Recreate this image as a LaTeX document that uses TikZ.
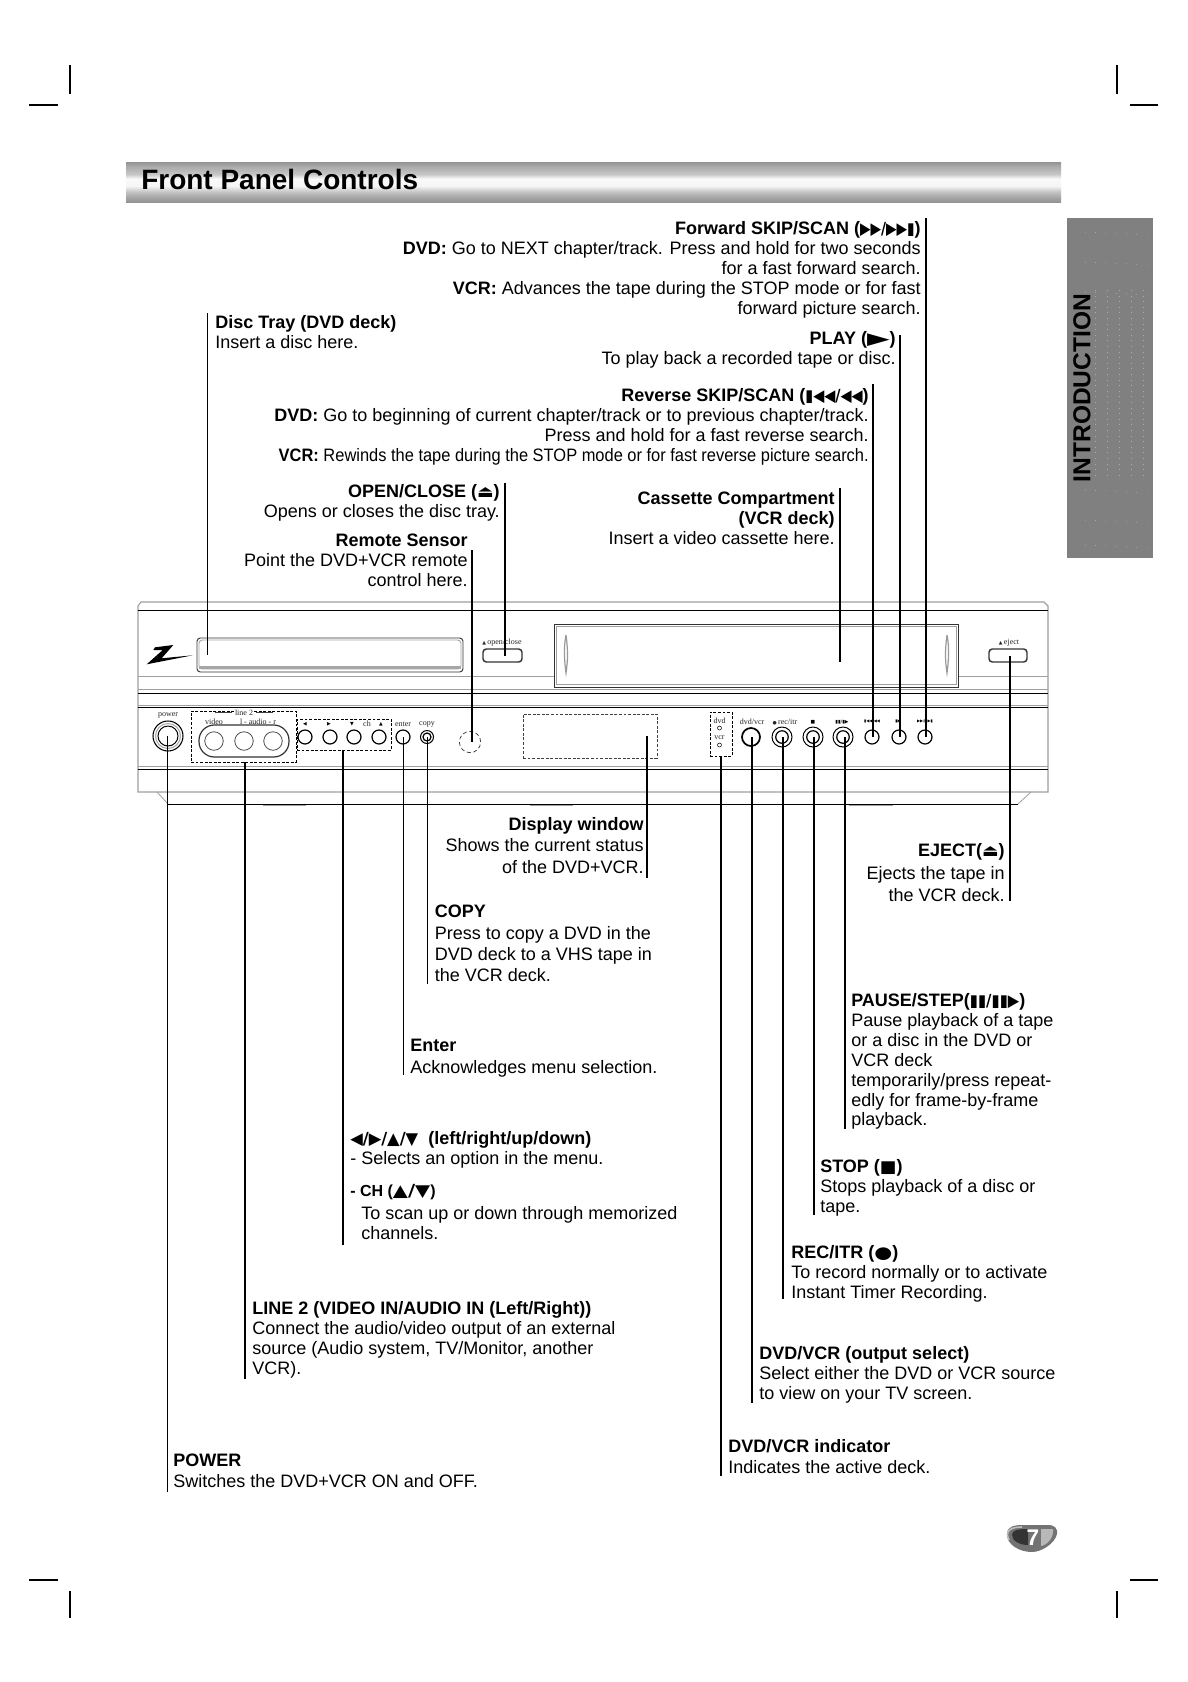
\documentclass[tikz,border=0pt]{standalone}
\usepackage{fontspec}
\usepackage{graphicx}
\setmainfont{Liberation Sans}
\newfontfamily\symf{DejaVu Sans}
\newfontfamily\devf{Liberation Serif}
\newcommand{\fl}{\rule{0pt}{10.5pt}}
\newcommand{\syw}[2]{\resizebox{#1}{\height}{\symf\fontsize{12.5}{12.5}\selectfont #2}}
\newcommand{\tsy}[1]{{\symf\fontsize{3.6}{4}\selectfont #1}}
\pgfdeclareverticalshading{barshade}{100bp}{
  color(0bp)=(gray!60!white);
  color(25bp)=(gray!85!white);
  color(29bp)=(gray!75!white);
  color(37bp)=(gray!50!white);
  color(45bp)=(gray!8!white);
  color(54bp)=(gray!4!white);
  color(60bp)=(gray!45!white);
  color(69bp)=(gray!65!white);
  color(75bp)=(gray!85!white);
  color(100bp)=(gray!60!white)}
\tikzset{
  x=0.75pt,y=-0.75pt,
  tl/.style={inner sep=0,anchor=north west,align=left,font=\fontsize{13.5}{#1}\selectfont},
  tl/.default=15pt,
  tr/.style={inner sep=0,anchor=north east,align=right,font=\fontsize{13.5}{#1}\selectfont},
  tr/.default=15pt,
  conn/.style={draw=black,line width=0.95pt},
  crop/.style={draw=black,line width=1pt},
  grayline/.style={draw=gray!75,line width=0.6pt},
  darkline/.style={draw=black,line width=0.7pt},
  btn/.style={circle,draw=black,line width=0.75pt,inner sep=0,minimum size=#1*0.75pt},
  dbox/.style 2 args={rectangle,draw=black,dashed,dash pattern=on 2.2pt off 1.2pt,line width=0.7pt,inner sep=0,minimum width=#1*0.75pt,minimum height=#2*0.75pt},
  rbox/.style 2 args={rectangle,rounded corners=2.5pt,draw=black!80,line width=0.7pt,inner sep=0,minimum width=#1*0.75pt,minimum height=#2*0.75pt},
  dev/.style={inner sep=0,font=\devf\fontsize{6}{7}\selectfont,text=black!85},
}
\begin{document}
\begin{tikzpicture}
\useasboundingbox (0,0) rectangle (1188,1682);
\fill[white] (0,0) rectangle (1188,1682);

% crop marks
\coordinate (c1a) at (70,65); \coordinate (c1b) at (70,94);
\coordinate (c2a) at (29,105); \coordinate (c2b) at (58,105);
\coordinate (c3a) at (1117,65); \coordinate (c3b) at (1117,94);
\coordinate (c4a) at (1130,105); \coordinate (c4b) at (1158,105);
\coordinate (c5a) at (70,1591); \coordinate (c5b) at (70,1618);
\coordinate (c6a) at (29,1580); \coordinate (c6b) at (58,1580);
\coordinate (c7a) at (1117,1591); \coordinate (c7b) at (1117,1618);
\coordinate (c8a) at (1130,1580); \coordinate (c8b) at (1158,1580);
\foreach \a/\b in {c1a/c1b,c2a/c2b,c3a/c3b,c4a/c4b,c5a/c5b,c6a/c6b,c7a/c7b,c8a/c8b}
  \draw[crop] (\a) -- (\b);

% title bar
\shade[shading=barshade] (126,162) rectangle (1061,202);
\node[inner sep=0,anchor=base west,font=\bfseries\fontsize{21}{24}\selectfont] (title) at (141,189) {Front Panel Controls};

% side tab
\fill[black!50] (1067,218) rectangle (1153,558);
\foreach \x in {1095,1107,1119,1131,1143}
  \draw[white,opacity=.35,line width=0.4pt,dash pattern=on 0.7pt off 3.5pt] (\x,290) -- (\x,480);
\foreach \y in {232,262,292,490,520,545}
  \draw[white,opacity=.5,line width=0.4pt,dash pattern=on 0.7pt off 7pt] (1085,\y) -- (1150,\y+3);
\node[inner sep=0,rotate=90,font=\bfseries\fontsize{18.4}{20}\selectfont] (tab) at (1082,388) {INTRODUCTION};

% page badge
\fill[black!55] (1007,1533) .. controls (1008,1526) and (1015,1525) .. (1022,1525) -- (1048,1525) .. controls (1055,1525) and (1058,1529) .. (1057,1534) .. controls (1055,1543) and (1042,1552) .. (1032,1552) .. controls (1020,1552) and (1006,1545) .. (1007,1533) -- cycle;
\draw[black!25,line width=1.2pt] (1009,1540) .. controls (1004,1530) and (1012,1527) .. (1022,1527);
\fill[black!80] (1012,1535) .. controls (1012,1530) and (1018,1529) .. (1028,1529) -- (1028,1545) .. controls (1020,1545) and (1012,1541) .. (1012,1535) -- cycle;
\fill[black!28] (1041,1529) -- (1053,1529) .. controls (1054,1538) and (1047,1545) .. (1041,1546) -- cycle;
\node[inner sep=0,text=white,font=\bfseries\fontsize{17}{18}\selectfont] (pg) at (1033,1538) {7};

% panel body
\draw[gray!75,line width=0.8pt] (138,792) -- (138,606) -- (141,602) -- (1044,602) -- (1048,606) -- (1048,792) -- cycle;
\draw[darkline] (138,610) -- (1048,610);
\draw[grayline] (138,676) -- (554,676);
\draw[grayline] (958,676) -- (1048,676);
\draw[grayline] (138,689) -- (1048,689);
\draw[darkline] (138,693) -- (1048,693);
\draw[grayline] (138,705) -- (1048,705);
\draw[darkline] (138,707) -- (1048,707);
\draw[grayline] (138,766) -- (1048,766);
\draw[darkline] (138,769) -- (1048,769);
\draw[darkline] (168,804) -- (1018,804);
\draw[grayline] (157,792) -- (168,804);
\draw[grayline] (1031,792) -- (1018,804);
\draw[grayline] (263,805.5) -- (306,805.5);
\draw[grayline] (530,805.5) -- (573,805.5);
\draw[grayline] (849,805.5) -- (893,805.5);

% logo
\fill[black] (155,647.3) -- (173.3,645) -- (161.7,658.3) -- (192.7,655.3) -- (146.7,664.3) -- (162.7,650) -- (153.3,650) -- cycle;

% disc tray
\node[rbox={266}{34}] (tray) at (330,655) {};
\node[rbox={262}{29},draw=gray!70] (trayin) at (330,654.5) {};
\draw[gray!70,line width=1.6pt] (199,667.5) -- (461,667.5);

% open/close and eject
\node[rbox={39}{13},line width=1.1pt] (openbtn) at (502.5,655.5) {};
\node[dev] (openlab) at (502,642.5) {\tsy{▲}\,open/close};
\node[rbox={38}{13},line width=1.1pt] (ejbtn) at (1008,655.5) {};
\node[dev] (ejlab) at (1009,642.5) {\tsy{▲}\,eject};

% cassette door
\draw[black!80,line width=0.7pt] (554,624) rectangle (958,687);
\draw[gray!75,line width=0.6pt] (556.5,626) rectangle (956,684.5);
\draw[gray!80,line width=0.9pt] (566,635) .. controls (563,650) and (565,665) .. (566,673) .. controls (568,660) and (568,650) .. (566,635);
\draw[gray!80,line width=0.9pt] (947,635) .. controls (950,650) and (948,665) .. (947,673) .. controls (945,660) and (945,650) .. (947,635);

% lower panel controls
\node[btn=30,line width=0.8pt] (pwr) at (168,736) {};
\node[btn=25,draw=gray!70] at (168,736) {};
\node[btn=20] at (168,736) {};
\node[dev] (pwrlab) at (168,715) {power};

\node[dbox={105}{51}] (linebox) at (243.5,736.5) {};
\node[rbox={90}{32},rounded corners=11.5pt,line width=0.9pt] (pill) at (244,741) {};
\node[btn=18.5,draw=black!70,line width=0.6pt] (lin1) at (214,741) {};
\node[btn=18.5,draw=black!70,line width=0.6pt] (lin2) at (244,741) {};
\node[btn=18.5,draw=black!70,line width=0.6pt] (lin3) at (273,741) {};
\node[dev,fill=white,inner xsep=1pt] (lin2lab) at (244,713) {line 2};
\node[dev] (vidlab) at (214,721.5) {video};
\node[dev] (audlab) at (258,721.5) {l - audio - r};
\draw[black!75,line width=0.7pt] (215,712) -- (232,712);
\draw[black!75,line width=0.7pt] (256,712) -- (273,712);

\node[dbox={94}{31}] (navbox) at (344,734.5) {};
\foreach \n/\x in {nava/305,navb/330,navc/354,navd/379}
  \node[btn=14,line width=0.9pt] (\n) at (\x,737) {};
\node[inner sep=0] (s1) at (305,724) {\tsy{◀}};
\node[inner sep=0] (s2) at (329,724) {\tsy{▶}};
\node[inner sep=0] (s3) at (352,724) {\tsy{▼}};
\node[dev] (chl) at (367,724) {ch};
\node[inner sep=0] (s4) at (381,724) {\tsy{▲}};

\node[btn=14,line width=0.9pt] (enterb) at (403,737) {};
\node[dev] (enterl) at (403,724) {enter};
\node[btn=13] (copyb) at (427,737) {};
\node[btn=8,line width=0.9pt] at (427,737) {};
\node[dev] (copyl) at (427,724) {copy};

\node[circle,draw=black!85,densely dashed,line width=0.5pt,inner sep=0,minimum size=16pt] (remote) at (470,742) {};
\node[dbox={134}{44},draw=black!75] (dispbox) at (590,736) {};

\node[dbox={22}{44}] (indbox) at (721,734) {};
\node[dev] (dvdl) at (719.5,721) {dvd};
\node[btn=4,line width=0.4pt] (dvdo) at (719.5,728) {};
\node[dev] (vcrl) at (719.5,738) {vcr};
\node[btn=4,line width=0.4pt] (vcro) at (719.5,745) {};

\node[btn=18,line width=1.3pt] (dvb) at (751,737) {};
\node[dev] (dvl) at (752,722) {dvd/vcr};
\node[btn=20] (recb) at (782,737) {};
\node[btn=12.5,line width=0.9pt] at (782,737) {};
\node[dev] (recl) at (785,722) {\tsy{●}\,rec/itr};
\node[btn=20] (stopb) at (813,737) {};
\node[btn=12.5,line width=0.9pt] at (813,737) {};
\node[inner sep=0] (stopl) at (813,722) {\tsy{■}};
\node[btn=20] (pauseb) at (843,737) {};
\node[btn=12.5,line width=0.9pt] at (843,737) {};
\node[inner sep=0] (pausel) at (842,722) {\tsy{▮▮/▮▶}};
\node[btn=14,line width=0.9pt] (revb) at (872,737) {};
\node[inner sep=0] (revl) at (872,721.5) {\fontsize{3}{3}\selectfont\symf ▮◀◀/◀◀};
\node[btn=14,line width=0.9pt] (playb) at (899,737) {};
\node[inner sep=0] (playl) at (898,721.5) {\fontsize{3}{3}\selectfont\symf ▮▶};
\node[btn=14,line width=0.9pt] (fwdb) at (925,737) {};
\node[inner sep=0] (fwdl) at (925,721.5) {\fontsize{3}{3}\selectfont\symf ▶▶/▶▶▮};

% callout texts
\node[tr] (tfwd) at (921,220.5) {\fl\textbf{Forward SKIP/SCAN (\syw{41pt}{▶▶/▶▶▮})}\\\textbf{DVD:} Go to NEXT chapter/track. Press and hold for two seconds\\for a fast forward search.\\\textbf{VCR:} Advances the tape during the STOP mode or for fast\\forward picture search.};
\node[tl] (ttray) at (215,314.5) {\fl\textbf{Disc Tray (DVD deck)}\\Insert a disc here.};
\node[tr] (tplay) at (896,330.5) {\fl\textbf{PLAY (\syw{17pt}{▶})}\\To play back a recorded tape or disc.};
\node[tr] (trev) at (869,387.5) {\fl\textbf{Reverse SKIP/SCAN (\syw{43pt}{▮◀◀/◀◀})}\\\textbf{DVD:} Go to beginning of current chapter/track or to previous chapter/track.\\Press and hold for a fast reverse search.\\\resizebox{442.5pt}{\height}{\textbf{VCR:} Rewinds the tape during the STOP mode or for fast reverse picture search.}};
\node[tr] (topen) at (500,483.5) {\fl\textbf{OPEN/CLOSE (\syw{12.5pt}{⏏})}\\Opens or closes the disc tray.};
\node[tr] (tremote) at (468,532.5) {\fl\textbf{Remote Sensor}\\Point the DVD+VCR remote\\control here.};
\node[tr] (tcass) at (835,490.5) {\fl\textbf{Cassette Compartment}\\\textbf{(VCR deck)}\\Insert a video cassette here.};
\node[tr=15.9pt] (tdisp) at (644,816.5) {\fl\textbf{Display window}\\Shows the current status\\of the DVD+VCR.};
\node[tr=16.7pt] (teject) at (1005,842.5) {\fl\textbf{EJECT(\syw{12.5pt}{⏏})}\\Ejects the tape in\\the VCR deck.};
\node[tl=16pt] (tcopy) at (434.5,903.5) {\fl\textbf{COPY}\\Press to copy a DVD in the\\DVD deck to a VHS tape in\\the VCR deck.};
\node[tl=16pt] (tenter) at (410,1037.5) {\fl\textbf{Enter}\\Acknowledges menu selection.};
\node[tl] (tnav) at (350,1130.5) {\fl\textbf{\syw{51pt}{◀/▶/▲/▼}\ \ (left/right/up/down)}\\- Selects an option in the menu.};
\node[inner sep=0,anchor=west,font=\bfseries\fontsize{12}{13}\selectfont] (tch) at (350,1192) {- CH (\syw{28pt}{▲/▼})};
\node[tl] (tscan) at (361,1205.5) {\fl To scan up or down through memorized\\channels.};
\node[tl] (tline) at (252,1300.5) {\fl\textbf{LINE 2 (VIDEO IN/AUDIO IN (Left/Right))}\\Connect the audio/video output of an external\\source (Audio system, TV/Monitor, another\\VCR).};
\node[tl=15.6pt] (tpower) at (173,1452.5) {\fl\textbf{POWER}\\Switches the DVD+VCR ON and OFF.};
\node[tl=14.9pt] (tpause) at (851,992.5) {\fl\textbf{PAUSE/STEP(\syw{37pt}{▮▮/▮▮▶})}\\Pause playback of a tape\\or a disc in the DVD or\\VCR deck\\temporarily/press repeat-\\edly for frame-by-frame\\playback.};
\node[tl] (tstop) at (820,1158.5) {\fl\textbf{STOP (\syw{12.5pt}{■})}\\Stops playback of a disc or\\tape.};
\node[tl=14.8pt] (trec) at (791,1244.5) {\fl\textbf{REC/ITR (\syw{13.5pt}{●})}\\To record normally or to activate\\Instant Timer Recording.};
\node[tl=14.8pt] (tdv) at (759,1345.5) {\fl\textbf{DVD/VCR (output select)}\\Select either the DVD or VCR source\\to view on your TV screen.};
\node[tl=15.6pt] (tind) at (728,1438.5) {\fl\textbf{DVD/VCR indicator}\\Indicates the active deck.};

% connector ends
\coordinate (kfwd) at (926,218);
\coordinate (kplay) at (900,335);
\coordinate (krev) at (873,384);
\coordinate (kcass) at (840,488);
\coordinate (kopen) at (505,483);
\coordinate (kremote) at (472,550);
\coordinate (ktray) at (207.5,313);
\coordinate (kdisp) at (647,878);
\coordinate (keject) at (1010,901);
\coordinate (kcopy) at (427.5,984);
\coordinate (kenter) at (403.5,1075);
\coordinate (knav) at (343,1245);
\coordinate (kline) at (245,1379);
\coordinate (kpower) at (167.5,1492);
\coordinate (kpause) at (845,1129);
\coordinate (kstop) at (814,1215);
\coordinate (krec) at (783,1299);
\coordinate (kdv) at (752,1403);
\coordinate (kind) at (721,1476);

\draw[conn] (kfwd) -- (kfwd |- fwdb.center);
\draw[conn] (kplay) -- (kplay |- playb.center);
\draw[conn] (krev) -- (krev |- revb.center);
\draw[conn] (kcass) -- (kcass |- 0,662);
\draw[conn] (kopen) -- (kopen |- openbtn.center);
\draw[conn] (kremote) -- (kremote |- remote.center);
\draw[conn] (ktray) -- (ktray |- tray.center);
\draw[conn] (kdisp) -- (kdisp |- dispbox.center);
\draw[conn] (keject) -- (keject |- ejbtn.center);
\draw[conn] (kcopy) -- (kcopy |- copyb.center);
\draw[conn] (kenter) -- (kenter |- enterb.center);
\draw[conn] (knav) -- (knav |- navbox.south);
\draw[conn] (kline) -- (kline |- linebox.south);
\draw[conn] (kpower) -- (kpower |- pwr.center);
\draw[conn] (kpause) -- (kpause |- pauseb.center);
\draw[conn] (kstop) -- (kstop |- stopb.center);
\draw[conn] (krec) -- (krec |- recb.center);
\draw[conn] (kdv) -- (kdv |- dvb.center);
\draw[conn] (kind) -- (kind |- indbox.south);
\end{tikzpicture}
\end{document}
